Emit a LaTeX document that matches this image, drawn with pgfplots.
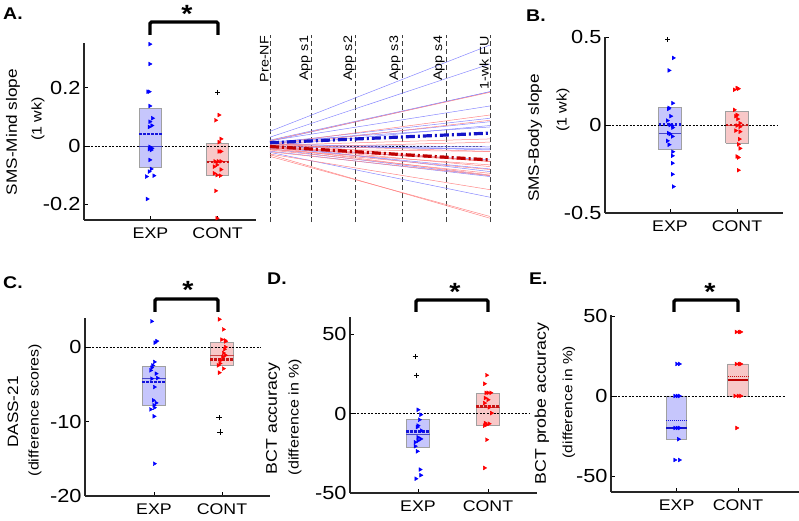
\documentclass[border=0pt]{standalone}
\usepackage{fontspec}
\setmainfont{Liberation Sans}[FakeStretch=1.15]
\usepackage{pgfplots}
\pgfplotsset{compat=1.18}

\definecolor{axcol}{RGB}{38,38,38}
\definecolor{ptblue}{RGB}{0,0,255}
\definecolor{ptred}{RGB}{255,0,0}
\definecolor{boxblue}{RGB}{198,198,252}
\definecolor{boxred}{RGB}{248,200,200}
\definecolor{boxedge}{RGB}{160,160,160}
\definecolor{medblue}{RGB}{70,70,200}
\definecolor{medred}{RGB}{200,70,70}
\definecolor{meanblue}{RGB}{20,20,220}
\definecolor{meanred}{RGB}{200,20,20}
\definecolor{lnblue}{RGB}{135,135,255}
\definecolor{lnred}{RGB}{255,135,135}
\definecolor{avgblue}{RGB}{20,20,200}
\definecolor{avgred}{RGB}{190,0,0}

\newcommand{\fs}[1]{\fontsize{#1}{#1}\selectfont}

\pgfplotsset{
  panel/.style={
    scale only axis, axis lines*=left, anchor=south west,
    axis line style={line width=2.6bp, color=axcol},
    tick align=inside, major tick length=4bp,
    tick style={black, line width=0.8bp},
    xtick={1,2}, xticklabels={EXP,CONT},
    xticklabel style={font=\fs{15.5}, yshift=-4bp},
    yticklabel style={font=\fs{19}},
  },
  boxe/.style={fill=boxblue, draw=boxedge, line width=0.9bp},
  boxc/.style={fill=boxred, draw=boxedge, line width=0.9bp},
  mede/.style={medblue, line width=0.9bp},
  medc/.style={medred, line width=0.9bp},
  meane/.style={meanblue, line width=2.4bp, dash pattern=on 2.2bp off 1.8bp},
  meanc/.style={meanred, line width=2.4bp, dash pattern=on 2.2bp off 1.8bp},
  zero/.style={black, line width=0.7bp, dash pattern=on 2bp off 1.5bp},
  ptse/.style={only marks, mark=triangle*, mark size=2.2bp, mark options={rotate=-90, draw=ptblue, fill=ptblue}},
  ptsc/.style={only marks, mark=triangle*, mark size=2.2bp, mark options={rotate=-90, draw=ptred, fill=ptred}},
  outl/.style={only marks, mark=+, mark size=2.6bp, mark options={black, line width=0.7bp}},
  vline/.style={black!75, line width=0.8bp, dash pattern=on 5bp off 3bp},
  lne/.style={lnblue, line width=0.5bp},
  lnc/.style={lnred, line width=0.5bp},
}

\begin{document}
\begin{tikzpicture}[x=1bp,y=1bp]
\path[use as bounding box] (0,0) rectangle (799,521);

% ---------- A: SMS-Mind slope ----------
\begin{axis}[panel, at={(84bp,301bp)}, width=172bp, height=177bp,
  xmin=0.009, xmax=2.572, ymin=-0.254, ymax=0.353,
  ytick={-0.2,0,0.2}, yticklabels={-0.2,0,0.2}]
  \addplot[boxe] coordinates {(0.835,-0.073) (1.165,-0.073) (1.165,0.127) (0.835,0.127) (0.835,-0.073)};
  \addplot[boxc] coordinates {(1.835,-0.102) (2.165,-0.102) (2.165,0.009) (1.835,0.009) (1.835,-0.102)};
  \addplot[zero] coordinates {(0.009,0) (2.572,0)};
  \addplot[mede] coordinates {(0.835,-0.003) (1.165,-0.003)};
  \addplot[meane] coordinates {(0.835,0.041) (1.165,0.041)};
  \addplot[medc] coordinates {(1.835,-0.053) (2.165,-0.053)};
  \addplot[meanc] coordinates {(1.835,-0.056) (2.165,-0.056)};
  \addplot[ptse] coordinates {
    (0.99,0.349) (0.99,0.281) (0.96,0.186) (0.98,0.186) (0.99,0.137)
    (1.03,0.095) (0.99,0.083) (1.02,0.070) (0.98,0.065) (0.99,-0.003)
    (1.02,-0.008) (0.98,-0.011) (1.01,-0.014) (0.99,-0.048) (1.01,-0.079)
    (0.98,-0.088) (0.94,-0.105) (1.05,-0.102) (0.95,-0.182)};
  \addplot[ptsc] coordinates {
    (2.02,0.106) (1.97,0.088) (2.05,0.024) (2.02,0.013) (2.02,-0.019)
    (2.05,-0.019) (1.96,-0.053) (2.01,-0.053) (2.05,-0.053) (1.99,-0.065)
    (1.95,-0.071) (2.05,-0.081) (1.95,-0.094) (1.99,-0.100) (2.04,-0.102)
    (1.97,-0.154) (1.99,-0.248)};
  \addplot[outl] coordinates {(2.0,0.184)};
\end{axis}

% ---------- A: slopes over sessions ----------
\begin{axis}[scale only axis, anchor=south west, at={(270bp,301bp)}, width=220bp, height=177bp,
  xmin=0, xmax=1, ymin=-0.254, ymax=0.353, axis lines=none, clip=false]
  \addplot[vline] coordinates {(0,-0.261) (0,0.381)};
  \addplot[vline] coordinates {(0.19,-0.261) (0.19,0.381)};
  \addplot[vline] coordinates {(0.39,-0.261) (0.39,0.381)};
  \addplot[vline] coordinates {(0.60,-0.261) (0.60,0.381)};
  \addplot[vline] coordinates {(0.80,-0.261) (0.80,0.381)};
  \addplot[vline] coordinates {(1,-0.261) (1,0.381)};
  \addplot[zero] coordinates {(-0.064,0) (0.97,0)};
  % EXP participants
  \addplot[lne] coordinates {(0,0.050) (1,0.346)};
  \addplot[lne] coordinates {(0,0.030) (1,0.281)};
  \addplot[lne] coordinates {(0,0.020) (1,0.186)};
  \addplot[lne] coordinates {(0,0.016) (1,0.186)};
  \addplot[lne] coordinates {(0,0.018) (1,0.137)};
  \addplot[lne] coordinates {(0,0.010) (1,0.095)};
  \addplot[lne] coordinates {(0,0.006) (1,0.083)};
  \addplot[lne] coordinates {(0,0.000) (1,0.070)};
  \addplot[lne] coordinates {(0,0.014) (1,0.065)};
  \addplot[lne] coordinates {(0,0.004) (1,-0.003)};
  \addplot[lne] coordinates {(0,-0.004) (1,-0.008)};
  \addplot[lne] coordinates {(0,0.000) (1,-0.011)};
  \addplot[lne] coordinates {(0,0.008) (1,-0.014)};
  \addplot[lne] coordinates {(0,-0.008) (1,-0.048)};
  \addplot[lne] coordinates {(0,-0.004) (1,-0.079)};
  \addplot[lne] coordinates {(0,0.002) (1,-0.088)};
  \addplot[lne] coordinates {(0,-0.018) (1,-0.105)};
  \addplot[lne] coordinates {(0,-0.010) (1,-0.102)};
  \addplot[lne] coordinates {(0,-0.022) (1,-0.176)};
  % CONT participants
  \addplot[lnc] coordinates {(0,0.018) (1,0.184)};
  \addplot[lnc] coordinates {(0,0.006) (1,0.106)};
  \addplot[lnc] coordinates {(0,0.000) (1,0.088)};
  \addplot[lnc] coordinates {(0,0.002) (1,0.024)};
  \addplot[lnc] coordinates {(0,-0.006) (1,0.013)};
  \addplot[lnc] coordinates {(0,0.004) (1,-0.019)};
  \addplot[lnc] coordinates {(0,-0.010) (1,-0.019)};
  \addplot[lnc] coordinates {(0,0.000) (1,-0.053)};
  \addplot[lnc] coordinates {(0,-0.006) (1,-0.053)};
  \addplot[lnc] coordinates {(0,0.010) (1,-0.053)};
  \addplot[lnc] coordinates {(0,-0.012) (1,-0.065)};
  \addplot[lnc] coordinates {(0,0.000) (1,-0.071)};
  \addplot[lnc] coordinates {(0,-0.010) (1,-0.081)};
  \addplot[lnc] coordinates {(0,-0.014) (1,-0.094)};
  \addplot[lnc] coordinates {(0,-0.004) (1,-0.100)};
  \addplot[lnc] coordinates {(0,-0.020) (1,-0.102)};
  \addplot[lnc] coordinates {(0,-0.028) (1,-0.150)};
  \addplot[lnc] coordinates {(0,-0.036) (1,-0.242)};
  \addplot[lnc] coordinates {(0,-0.030) (1,-0.248)};
  % group means
  \addplot[avgblue, line width=3.2bp, dash pattern=on 9bp off 3bp on 2bp off 3bp] coordinates {(0,0.011) (1,0.044)};
  \addplot[avgred, line width=3.2bp, dash pattern=on 9bp off 3bp on 2bp off 3bp] coordinates {(0,-0.002) (1,-0.048)};
  \foreach \xp/\lab in {0/Pre-NF, 0.19/App s1, 0.39/App s2, 0.60/App s3, 0.80/App s4, 1/1-wk FU}{
    \edef\tmp{\noexpand\node[rotate=90, anchor=south east, inner sep=1bp, font=\noexpand\fs{12.5}] at (axis cs:\xp,0.381) {\lab};}\tmp
  }
\end{axis}

% ---------- B: SMS-Body slope ----------
\begin{axis}[panel, at={(605bp,308bp)}, width=178bp, height=176bp,
  xmin=0.03, xmax=2.687, ymin=-0.5, ymax=0.5,
  ytick={-0.5,0,0.5}, yticklabels={-0.5,0,0.5}]
  \addplot[boxe] coordinates {(0.835,-0.141) (1.165,-0.141) (1.165,0.097) (0.835,0.097) (0.835,-0.141)};
  \addplot[boxc] coordinates {(1.835,-0.105) (2.165,-0.105) (2.165,0.078) (1.835,0.078) (1.835,-0.105)};
  \addplot[zero] coordinates {(0.03,0) (2.612,0)};
  \addplot[mede] coordinates {(0.835,-0.046) (1.165,-0.046)};
  \addplot[meane] coordinates {(0.835,0.002) (1.165,0.002)};
  \addplot[medc] coordinates {(1.835,-0.005) (2.165,-0.005)};
  \addplot[meanc] coordinates {(1.835,0.0) (2.165,0.0)};
  \addplot[ptse] coordinates {
    (1.05,0.381) (0.985,0.310) (1.04,0.124) (0.985,0.097) (0.975,0.091)
    (1.01,0.050) (0.96,0.025) (1.035,-0.004) (1.0,0.0) (1.04,-0.015)
    (0.975,-0.046) (1.0,-0.051) (1.035,-0.065) (0.96,-0.090) (0.985,-0.112)
    (1.04,-0.152) (1.035,-0.175) (1.035,-0.217) (1.035,-0.280) (1.05,-0.350)};
  \addplot[ptsc] coordinates {
    (1.96,0.200) (2.0,0.210) (2.02,0.206) (1.96,0.086) (2.0,0.057)
    (1.98,0.050) (2.01,0.034) (2.045,0.010) (2.0,-0.003) (2.045,-0.010)
    (1.98,-0.032) (2.045,-0.038) (2.035,-0.080) (2.02,-0.110) (2.045,-0.133)
    (2.0,-0.179) (2.02,-0.185) (2.02,-0.257)};
  \addplot[outl] coordinates {(0.965,0.486)};
\end{axis}

% ---------- C: DASS-21 ----------
\begin{axis}[panel, at={(85bp,25bp)}, width=185bp, height=178bp,
  xmin=-0.015, xmax=2.706, ymin=-20, ymax=3.9,
  ytick={-20,-10,0}, yticklabels={-20,-10,0}]
  \addplot[boxe] coordinates {(0.83,-7.9) (1.17,-7.9) (1.17,-2.6) (0.83,-2.6) (0.83,-7.9)};
  \addplot[boxc] coordinates {(1.83,-2.46) (2.17,-2.46) (2.17,0.59) (1.83,0.59) (1.83,-2.46)};
  \addplot[zero] coordinates {(-0.015,0) (2.56,0)};
  \addplot[mede] coordinates {(0.83,-4.16) (1.17,-4.16)};
  \addplot[meane] coordinates {(0.83,-4.7) (1.17,-4.7)};
  \addplot[medc] coordinates {(1.83,-1.1) (2.17,-1.1)};
  \addplot[meanc] coordinates {(1.83,-1.65) (2.17,-1.65)};
  \addplot[ptse] coordinates {
    (0.965,3.45) (1.04,0.8) (1.015,0.59) (1.005,-2.0) (0.98,-2.46)
    (0.965,-2.77) (0.95,-3.13) (1.03,-3.57) (0.965,-4.25) (1.05,-4.16)
    (1.005,-5.37) (0.99,-7.15) (1.03,-7.5) (1.0,-7.83) (0.95,-8.37)
    (1.005,-8.14) (1.0,-9.3) (1.005,-15.66)};
  \addplot[ptsc] coordinates {
    (1.96,3.72) (2.02,2.37) (1.995,1.0) (2.045,0.9) (2.05,0.76)
    (2.05,0.0) (2.035,-0.3) (2.02,-0.8) (2.05,-1.1) (2.01,-1.34)
    (1.98,-1.78) (1.97,-2.2) (1.945,-2.46) (2.02,-2.9) (1.96,-3.44)};
  \addplot[outl] coordinates {(1.955,-9.5) (1.97,-11.4)};
\end{axis}

% ---------- D: BCT accuracy ----------
\begin{axis}[panel, at={(350bp,28bp)}, width=187bp, height=176bp,
  xmin=0.029, xmax=2.7, ymin=-50, ymax=61,
  ytick={-50,0,50}, yticklabels={-50,0,50}]
  \addplot[boxe] coordinates {(0.835,-21) (1.165,-21) (1.165,-3.8) (0.835,-3.8) (0.835,-21)};
  \addplot[boxc] coordinates {(1.835,-7.5) (2.165,-7.5) (2.165,13) (1.835,13) (1.835,-7.5)};
  \addplot[zero] coordinates {(0.029,0) (2.6,0)};
  \addplot[mede] coordinates {(0.835,-13.2) (1.165,-13.2)};
  \addplot[meane] coordinates {(0.835,-11.1) (1.165,-11.1)};
  \addplot[medc] coordinates {(1.835,4.0) (2.165,4.0)};
  \addplot[meanc] coordinates {(1.835,4.6) (2.165,4.6)};
  \addplot[ptse] coordinates {
    (1.0,2.5) (1.04,-0.6) (1.02,-3.8) (1.0,-7.5) (0.99,-8.4)
    (1.05,-10.7) (1.0,-14.9) (1.04,-15.9) (0.96,-18) (1.0,-17)
    (0.96,-20.5) (0.99,-23.7) (1.03,-35.2) (1.04,-38.8) (0.97,-41)};
  \addplot[ptsc] coordinates {
    (1.98,24.3) (1.95,18.9) (1.97,13.2) (2.0,13.2) (2.04,13.2)
    (1.96,9.9) (2.0,8.8) (1.95,6.7) (2.015,4.0) (2.05,0.4)
    (1.96,-5.9) (1.98,-6.9) (2.015,-6.3) (1.95,-7.5) (1.98,-16.4)
    (1.95,-34.2)};
  \addplot[outl] coordinates {(0.96,36) (0.98,24.3) (2.0,61.2)};
\end{axis}

% ---------- E: BCT probe accuracy ----------
\begin{axis}[panel, at={(611bp,29bp)}, width=188bp, height=177bp,
  xmin=-0.07, xmax=2.995, ymin=-60, ymax=50.6,
  ytick={-50,0,50}, yticklabels={-50,0,50}]
  \addplot[boxe] coordinates {(0.833,-27) (1.167,-27) (1.167,0) (0.833,0) (0.833,-27)};
  \addplot[boxc] coordinates {(1.833,0) (2.167,0) (2.167,20) (1.833,20) (1.833,0)};
  \addplot[zero] coordinates {(-0.07,0) (2.77,0)};
  \addplot[meanblue, line width=0.6bp, dash pattern=on 1bp off 1bp] coordinates {(0.833,-15) (1.167,-15)};
  \addplot[avgblue, line width=2.6bp] coordinates {(0.833,-20) (1.167,-20)};
  \addplot[meanred, line width=0.6bp, dash pattern=on 1bp off 1bp] coordinates {(1.833,12) (2.167,12)};
  \addplot[avgred, line width=2.6bp] coordinates {(1.833,10) (2.167,10)};
  \addplot[ptse] coordinates {
    (1.0,20) (1.045,20) (0.97,0) (1.01,0) (1.045,0)
    (0.97,-20) (1.01,-20) (1.045,-20) (1.03,-27) (0.97,-40) (1.045,-40)};
  \addplot[ptsc] coordinates {
    (1.97,40) (2.02,40) (2.045,40) (1.97,20) (2.02,20) (2.045,20)
    (1.95,0) (2.005,0) (2.045,0) (1.98,-20)};
\end{axis}

% ---------- panel letters, axis titles, significance ----------
\node[anchor=north west, inner sep=0, font=\bfseries\fs{17}] at (3,513) {A.};
\node[anchor=north west, inner sep=0, font=\bfseries\fs{17}] at (526,511) {B.};
\node[anchor=north west, inner sep=0, font=\bfseries\fs{17}] at (3,245) {C.};
\node[anchor=north west, inner sep=0, font=\bfseries\fs{17}] at (267,248) {D.};
\node[anchor=north west, inner sep=0, font=\bfseries\fs{17}] at (529,248) {E.};

\node[rotate=90, font=\fs{15}] at (13,389) {SMS-Mind slope};
\node[rotate=90, font=\fs{14}] at (38,402) {(1 wk)};
\node[rotate=90, font=\fs{15}] at (535,383) {SMS-Body slope};
\node[rotate=90, font=\fs{14}] at (563,411) {(1 wk)};
\node[rotate=90, font=\fs{15}] at (13,109) {DASS-21};
\node[rotate=90, font=\fs{14}] at (35,111) {(difference scores)};
\node[rotate=90, font=\fs{15.5}] at (273,102.5) {BCT accuracy};
\node[rotate=90, font=\fs{14}] at (295,104) {(difference in \%)};
\node[rotate=90, font=\fs{15.5}] at (542,117.5) {BCT probe accuracy};
\node[rotate=90, font=\fs{13.5}] at (569,119) {(difference in \%)};

\begin{scope}[line width=3.2bp, rounded corners=1.5bp]
  \draw (150,486) -- (150,499) -- (218,499) -- (218,486);
  \draw (155,209) -- (155,222) -- (218,222) -- (218,209);
  \draw (416,209) -- (416,221) -- (488,221) -- (488,209);
  \draw (674,209) -- (674,221) -- (738,221) -- (738,209);
\end{scope}
\node[anchor=north, inner sep=0, font=\bfseries\fs{25}] at (187,516) {*};
\node[anchor=north, inner sep=0, font=\bfseries\fs{25}] at (188,240) {*};
\node[anchor=north, inner sep=0, font=\bfseries\fs{25}] at (455,238) {*};
\node[anchor=north, inner sep=0, font=\bfseries\fs{25}] at (710,238) {*};
\end{tikzpicture}
\end{document}
